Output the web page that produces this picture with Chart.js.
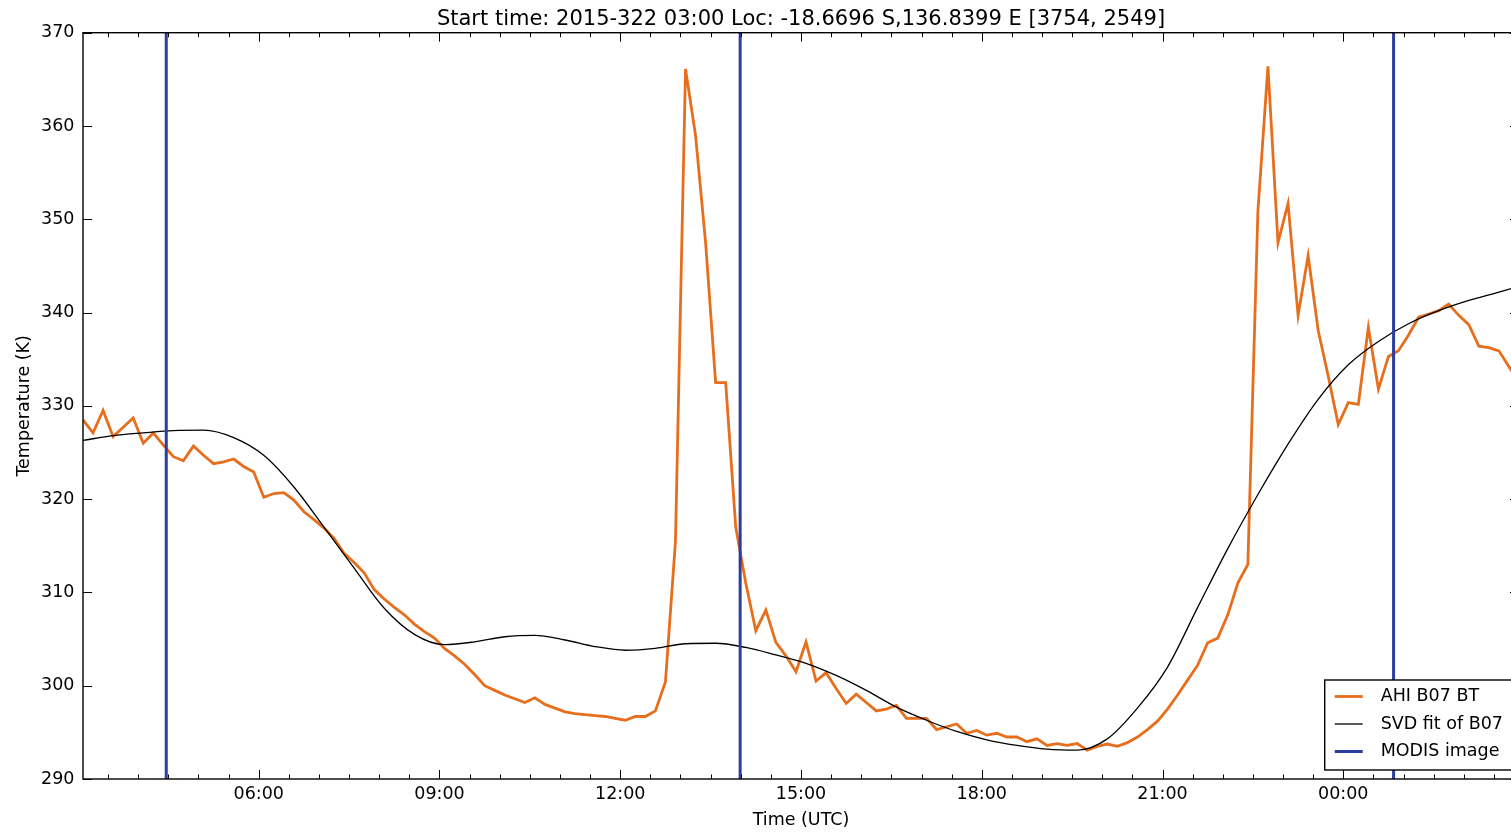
<!DOCTYPE html>
<html><head><meta charset="utf-8">
<script src="https://cdn.jsdelivr.net/npm/chart.js@4.4.1/dist/chart.umd.min.js"></script>
<style>
html,body{margin:0;padding:0;overflow:hidden;background:#fff;width:1511px;height:833px}
#wrap{position:absolute;left:0;top:0;width:1540px;height:833px}
</style>
</head><body><div id="wrap"><canvas id="c" width="1540" height="833"></canvas></div>
<script>
const chartTitle = 'Start time: 2015-322 03:00 Loc: -18.6696 S,136.8399 E [3754, 2549]';
const xAxisTitle = 'Time (UTC)';
const yAxisTitle = 'Temperature (K)';
const seriesNames = ['AHI B07 BT', 'SVD fit of B07', 'MODIS image'];
const seriesColors = ['#e66e1c', '#000000', '#2b3d9e'];

// hours since 00:00 of day 322; one AHI sample every 10 minutes
const ahiStartHour = 3 + 5 / 60;
const ahiStepHours = 10 / 60;
const ahiBT = [
  328.5, 327.1, 329.5, 326.7, 327.7, 328.7, 326.0, 327.1, 325.8, 324.55,
  324.1, 325.7, 324.7, 323.8, 324.0, 324.3, 323.5, 322.9, 320.2, 320.6,
  320.7, 319.9, 318.65, 317.8, 316.9, 315.8, 314.2, 313.2, 312.1, 310.3,
  309.3, 308.4, 307.6, 306.6, 305.8, 305.1, 304.0, 303.2, 302.3, 301.2,
  300.0, 299.5, 299.0, 298.6, 298.2, 298.7, 298.0, 297.6, 297.2, 297.0,
  296.9, 296.8, 296.7, 296.5, 296.3, 296.7, 296.7, 297.3, 300.4, 315.5,
  366.1, 359.0, 347.5, 332.5, 332.5, 317.0, 311.0, 305.9, 308.1, 304.65,
  303.2, 301.5, 304.7, 300.5, 301.4, 299.7, 298.1, 299.1, 298.2, 297.3,
  297.5, 297.9, 296.5, 296.5, 296.5, 295.3, 295.6, 295.9, 294.9, 295.2,
  294.7, 294.9, 294.5, 294.5, 294.0, 294.3, 293.6, 293.8, 293.6, 293.8,
  293.1, 293.5, 293.75, 293.5, 293.9, 294.5, 295.3, 296.2, 297.5, 299.0,
  300.6, 302.2, 304.6, 305.1, 307.6, 311.0, 313.0, 350.9, 366.4, 347.5,
  351.7, 339.7, 346.1, 338.1, 333.2, 328.0, 330.35, 330.15, 338.4, 331.8,
  335.3, 335.9, 337.6, 339.5, 339.85, 340.2, 340.9, 339.7, 338.7, 336.4,
  336.25, 335.9, 334.2, 332.5
];

// SVD fit read every 30 minutes from the same start
const svdStepHours = 30 / 60;
const svdFit = [
  326.3, 326.8, 327.1, 327.35, 327.4, 326.6, 324.7, 321.3, 317.0, 312.6,
  308.3, 305.5, 304.4, 304.7, 305.25, 305.4, 304.9, 304.2, 303.8, 304.0,
  304.5, 304.55, 304.1, 303.3, 302.4, 301.1, 299.5, 297.7, 296.3, 295.1,
  294.2, 293.6, 293.2, 293.1, 294.3, 297.6, 302.0, 308.4, 314.7, 320.5,
  325.9, 330.7, 334.4, 336.9, 338.8, 340.2, 341.3, 342.2, 343.1
];

const modisHours = [4.465, 13.99, 24.835];

const xTickHours = [6, 9, 12, 15, 18, 21, 24];
const xTickLabels = ['06:00', '09:00', '12:00', '15:00', '18:00', '21:00', '00:00'];
const xMinorStepHours = 0.5;
const yRange = [290, 370];
const yStep = 10;

const xRange = [ahiStartHour, ahiStartHour + (ahiBT.length - 1) * ahiStepHours];

const ahiPts = ahiBT.map((v, i) => ({ x: ahiStartHour + i * ahiStepHours, y: v }));
const svdPts = svdFit.map((v, i) => ({ x: ahiStartHour + i * svdStepHours, y: v }));
const modisPts = modisHours.flatMap(h => [{ x: h, y: yRange[0] }, { x: h, y: yRange[1] }, { x: h, y: null }]);

const FONT = 'DejaVu Sans';
Chart.defaults.font.family = FONT;
Chart.defaults.color = '#000';

// title centred over the plotting area (as in the original)
const axesTitle = {
  id: 'axesTitle',
  afterDraw(chart) {
    const { ctx, chartArea: { left, right } } = chart;
    ctx.save();
    ctx.font = '21px "' + FONT + '"';
    ctx.fillStyle = '#000';
    ctx.textAlign = 'center';
    ctx.textBaseline = 'middle';
    ctx.fillText(chartTitle, (left + right) / 2, 19.6);
    ctx.restore();
  }
};

const frameTicks = {
  id: 'frameTicks',
  afterDatasetsDraw(chart) {
    const { ctx, chartArea: { left, right, top, bottom }, scales: { x, y } } = chart;
    ctx.save();
    ctx.strokeStyle = '#000';
    ctx.lineWidth = 1;
    const major = 9, minor = 4.5;
    ctx.beginPath();
    const majors = new Set(xTickHours);
    for (let m = Math.ceil(xRange[0] / xMinorStepHours) * xMinorStepHours; m <= xRange[1]; m += xMinorStepHours) {
      const px = Math.round(x.getPixelForValue(m)) + 0.5;
      const len = majors.has(m) ? major : minor;
      ctx.moveTo(px, bottom); ctx.lineTo(px, bottom - len);
      ctx.moveTo(px, top); ctx.lineTo(px, top + len);
    }
    for (let v = yRange[0]; v <= yRange[1]; v += yStep) {
      const py = Math.round(y.getPixelForValue(v)) + 0.5;
      ctx.moveTo(left, py); ctx.lineTo(left + major, py);
      ctx.moveTo(right, py); ctx.lineTo(right - major, py);
    }
    ctx.stroke();
    ctx.lineWidth = 1.4;
    ctx.strokeRect(left, top, right - left, bottom - top);
    ctx.restore();
  }
};

const legendBox = {
  id: 'legendBox',
  afterDraw(chart) {
    const { ctx, chartArea: { right, bottom } } = chart;
    ctx.save();
    ctx.font = '17.5px "' + FONT + '"';
    const textW = Math.max(...seriesNames.map(n => ctx.measureText(n).width));
    const pad = 10, lineLen = 28, gap = 18, rowH = 27.5, h = 90;
    const w = pad + lineLen + gap + textW + pad;
    const bx = right - 6 - w, by = bottom - 9 - h;
    ctx.fillStyle = '#fff';
    ctx.fillRect(bx, by, w, h);
    ctx.strokeStyle = '#000';
    ctx.lineWidth = 1.4;
    ctx.strokeRect(bx, by, w, h);
    seriesNames.forEach((name, i) => {
      const ds = chart.data.datasets.find(d => d.label === name);
      const cy = by + 16.5 + i * rowH;
      ctx.strokeStyle = ds.borderColor;
      ctx.lineWidth = ds.borderWidth;
      ctx.beginPath();
      ctx.moveTo(bx + pad, cy); ctx.lineTo(bx + pad + lineLen, cy);
      ctx.stroke();
      ctx.fillStyle = '#000';
      ctx.textBaseline = 'middle';
      ctx.textAlign = 'left';
      ctx.fillText(name, bx + pad + lineLen + gap, cy);
    });
    ctx.restore();
  }
};

new Chart(document.getElementById('c'), {
  type: 'line',
  data: {
    datasets: [
      { label: seriesNames[2], data: modisPts, borderColor: seriesColors[2], borderWidth: 3, pointRadius: 0, spanGaps: false },
      { label: seriesNames[1], data: svdPts, borderColor: seriesColors[1], borderWidth: 1.3, pointRadius: 0, cubicInterpolationMode: 'monotone' },
      { label: seriesNames[0], data: ahiPts, borderColor: seriesColors[0], borderWidth: 2.8, pointRadius: 0, tension: 0 }
    ]
  },
  options: {
    responsive: false,
    devicePixelRatio: 1,
    animation: false,
    layout: { padding: { left: 0, right: 21, top: 32.7, bottom: 0 } },
    plugins: {
      legend: { display: false },
      tooltip: { enabled: false },
      title: { display: false }
    },
    scales: {
      x: {
        type: 'linear', min: xRange[0], max: xRange[1],
        grid: { display: false, drawTicks: false },
        border: { display: false },
        afterBuildTicks: s => { s.ticks = xTickHours.map(v => ({ value: v })); },
        afterFit: s => { s.height = 54; },
        ticks: {
          padding: 5.3, autoSkip: false, maxRotation: 0, color: '#000',
          font: { size: 17.5 },
          callback: (v, i) => xTickLabels[i]
        },
        title: { display: true, text: xAxisTitle, color: '#000', font: { size: 17.5 }, padding: { top: 0, bottom: 2.1 } }
      },
      y: {
        min: yRange[0], max: yRange[1],
        grid: { display: false, drawTicks: false },
        border: { display: false },
        afterFit: s => { s.width = 83; },
        ticks: { stepSize: yStep, padding: 8.5, color: '#000', font: { size: 17.5 } },
        title: { display: true, text: yAxisTitle, color: '#000', font: { size: 17.5 }, padding: { top: 14, bottom: 0 } }
      }
    }
  },
  plugins: [frameTicks, legendBox, axesTitle]
});
</script>
</body></html>
